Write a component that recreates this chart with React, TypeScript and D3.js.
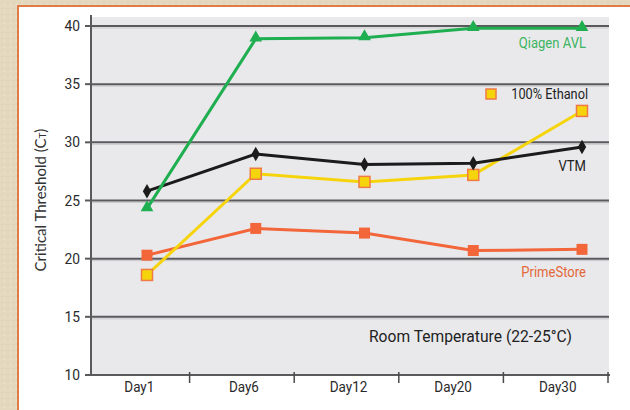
import * as d3 from 'd3';

const days = ['Day1', 'Day6', 'Day12', 'Day20', 'Day30'];
const yTicks = [10, 15, 20, 25, 30, 35, 40];
const gridValues = [15, 20, 25, 30, 35, 40];

const qiagen = [24.3, 38.9, 39.0, 39.8, 39.8];
const vtm = [25.8, 29.0, 28.1, 28.2, 29.6];
const ethanol = [18.6, 27.3, 26.6, 27.2, 32.7];
const primeStore = [20.3, 22.6, 22.2, 20.7, 20.8];

const W = 630;
const H = 410;
const font = '"Roboto", "Liberation Sans", sans-serif';

const y = d3.scaleLinear().domain([10, 40]).range([375, 26]);
const xBand = d3.scaleBand().domain(days).range([85, 608]);
const xPt = d3.scalePoint().domain(days).range([147, 582]);

const line = d3
  .line<number>()
  .x((_, i) => xPt(days[i])!)
  .y((d) => y(d));

const triangle = d3.symbol().type(d3.symbolTriangle).size(70)()!;
const diamond = d3.symbol().type(d3.symbolDiamond).size(60)()!;

const Square = ({ cx, cy, fill, stroke, size }: any) => (
  <rect x={cx - size / 2} y={cy - size / 2} width={size} height={size} fill={fill} stroke={stroke} strokeWidth={stroke ? 1.5 : 0} />
);

// condensed-looking text (no narrow fonts installed)
const CText = ({ x, y, size, fill, sx = 0.87, anchor = 'end', children }: any) => (
  <text transform={`translate(${x},${y}) scale(${sx},1)`} textAnchor={anchor} fontSize={size} fill={fill}>
    {children}
  </text>
);

export default function App() {
  const green = '#1fae50';
  const black = '#1b1b1b';
  const yellow = '#f6d40c';
  const orange = '#f2663a';

  return (
    <svg width={W} height={H} style={{ position: 'absolute', left: 0, top: 0 }} fontFamily={font}>
      <defs>
        <pattern id="paper" width="6" height="6" patternUnits="userSpaceOnUse">
          <rect width="6" height="6" fill="#e4d9bf" />
          <rect x="1" y="2" width="2" height="1" fill="#ddd0b2" />
          <rect x="4" y="4" width="1" height="2" fill="#ebe2cc" />
        </pattern>
      </defs>
      <rect width={W} height={H} fill="url(#paper)" />
      <rect x={18} y={6} width={W} height={H} fill="#fff" stroke="#de7b46" strokeWidth={2} />

      {/* plot area */}
      <rect x={91} y={17} width={518} height={358} fill="#e9e9ec" />

      {gridValues.map((v) => (
        <g key={v}>
          <line x1={91} x2={609} y1={y(v) + 2} y2={y(v) + 2} stroke="#c9c9cc" strokeWidth={1} />
          <line x1={91} x2={609} y1={y(v)} y2={y(v)} stroke="#5a5a5c" strokeWidth={2} />
        </g>
      ))}

      {/* y axis */}
      <line x1={91} x2={91} y1={15} y2={376} stroke="#5a5a5c" strokeWidth={2} />
      {yTicks.map((v) => (
        <g key={v}>
          <line x1={85} x2={91} y1={y(v)} y2={y(v)} stroke="#5a5a5c" strokeWidth={2} />
          <CText x={80} y={y(v) + 5} size={15} fill="#2a2a2a" sx={0.92}>
            {v}
          </CText>
        </g>
      ))}

      {/* x axis */}
      <line x1={85} x2={610} y1={y(10)} y2={y(10)} stroke="#5a5a5c" strokeWidth={2} />
      {days.map((d) => (
        <g key={d}>
          <line x1={xBand(d)! + xBand.bandwidth()} x2={xBand(d)! + xBand.bandwidth()} y1={y(10) - 3} y2={y(10) + 8} stroke="#4a4a4a" strokeWidth={1.5} />
          <CText x={xBand(d)! + xBand.bandwidth() / 2 + 2} y={392} anchor="middle" size={15} fill="#2a2a2a" sx={0.9}>
            {d}
          </CText>
        </g>
      ))}

      {/* y label */}
      <text transform="translate(46,200) rotate(-90)" textAnchor="middle" fontSize={15} fill="#333" fontFamily='"Lato", "Open Sans", sans-serif'>
        Critical Threshold (C<tspan fontSize={10}>T</tspan>)
      </text>

      {/* series */}
      <path d={line(primeStore)!} fill="none" stroke={orange} strokeWidth={3} />
      {primeStore.map((v, i) => (
        <Square key={i} cx={xPt(days[i])!} cy={y(v)} fill={orange} size={11} />
      ))}

      <path d={line(ethanol)!} fill="none" stroke={yellow} strokeWidth={3} />
      {ethanol.map((v, i) => (
        <Square key={i} cx={xPt(days[i])!} cy={y(v)} fill={yellow} stroke="#f07a46" size={11} />
      ))}

      <path d={line(vtm)!} fill="none" stroke={black} strokeWidth={3} />
      {vtm.map((v, i) => (
        <path key={i} d={diamond} transform={`translate(${xPt(days[i])},${y(v)})`} fill={black} />
      ))}

      <path d={line(qiagen)!} fill="none" stroke={green} strokeWidth={3} />
      {qiagen.map((v, i) => (
        <path key={i} d={triangle} transform={`translate(${xPt(days[i])},${y(v) - 1})`} fill={green} />
      ))}

      {/* labels */}
      <CText x={586} y={48} size={15} fill="#3cb462">Qiagen AVL</CText>
      <rect x={486} y={89} width={10} height={10} fill={yellow} stroke="#f07a46" strokeWidth={1.5} />
      <CText x={588} y={99} size={15} fill="#222" sx={0.85}>100% Ethanol</CText>
      <CText x={586} y={171} size={15} fill="#222">VTM</CText>
      <CText x={586} y={277} size={15} fill="#e4683a">PrimeStore</CText>
      <CText x={572} y={342} size={17} fill="#222" sx={0.92}>Room Temperature (22-25°C)</CText>
    </svg>
  );
}
